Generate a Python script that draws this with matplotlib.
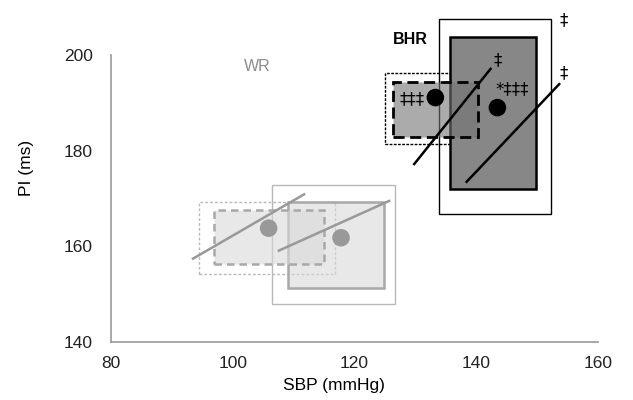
import matplotlib.pyplot as plt
from matplotlib.patches import Rectangle

plt.rcParams['font.family'] = ['Liberation Sans', 'DejaVu Sans']

# boxes: (x0, x1, y0, y1) in SBP / PI units
wr_dotted = (94.5, 116.8, 154.2, 169.2)
wr_dashed = (97.0, 115.0, 156.3, 167.7)
wr_outer = (106.4, 126.7, 147.9, 172.9)
wr_solid = (109.1, 124.8, 151.3, 169.3)
bhr_dotted = (125.1, 141.4, 181.3, 196.2)
bhr_dashed = (126.4, 140.3, 182.9, 194.4)
bhr_outer = (133.9, 152.3, 166.7, 207.6)
bhr_solid = (135.7, 149.8, 172.0, 203.7)

# group means
mean_sbp = [105.9, 117.8, 133.3, 143.5]
mean_pi = [163.8, 161.8, 191.1, 189.0]

# regression lines (x0, x1), (y0, y1)
line_x = [(93.3, 111.9), (107.4, 125.9), (129.7, 142.5), (138.3, 153.8)]
line_y = [(157.3, 171.0), (159.0, 169.6), (177.0, 197.3), (173.3, 194.1)]

fig = plt.figure(figsize=(6.33, 4), dpi=100)
ax = fig.add_axes([0.1754, 0.145, 0.769, 0.7175])


def box(b, ec, fc, ls, lw, z=2):
    x0, x1, y0, y1 = b
    r = Rectangle((x0, y0), x1 - x0, y1 - y0, facecolor=fc, edgecolor=ec,
                  linestyle=ls, linewidth=lw, zorder=z, clip_on=False)
    ax.add_patch(r)


# WR (grey)
box(wr_outer, '#b8b8b8', 'white', '-', 1.0, z=1)
box(wr_dotted, '#b8b8b8', 'none', (0, (2, 1.5)), 1.0, z=2)
box(wr_solid, '#a8a8a8', (0.85, 0.85, 0.85, 0.6), '-', 1.8, z=3)
box(wr_dashed, '#a8a8a8', (0.85, 0.85, 0.85, 0.6), (0, (3, 2)), 1.8, z=3)

# BHR (black)
box(bhr_outer, 'black', 'white', '-', 1.0, z=1)
box(bhr_dotted, 'black', 'none', (0, (2, 1)), 1.0, z=2)
box(bhr_solid, 'black', (0.53, 0.53, 0.53, 1.0), '-', 1.8, z=2)
box(bhr_dashed, 'black', (0.45, 0.45, 0.45, 0.6), (0, (4, 2)), 2.0, z=4)

colors = ['#999999', '#999999', 'black', 'black']
for i in range(4):
    ax.plot(line_x[i], line_y[i], color=colors[i], lw=1.8, zorder=5,
            clip_on=False, solid_capstyle='butt')
ax.scatter(mean_sbp, mean_pi, s=160, c=colors, zorder=6, clip_on=False,
           edgecolors='none')

dag = dict(fontsize=12, ha='center', va='center', family='DejaVu Sans', zorder=7)
ax.text(104.0, 197.5, 'WR', color='#8c8c8c', fontsize=11.5, ha='center', va='center')
ax.text(129.2, 203.3, 'BHR', color='black', fontsize=11.5, fontweight='bold',
        ha='center', va='center')
ax.text(154.4, 207.3, '‡', **dag)
ax.text(154.4, 196.2, '‡', **dag)
ax.text(143.6, 199.0, '‡', **dag)
ax.text(146.0, 192.9, '*‡‡‡', **dag)
ax.text(129.5, 190.8, '‡‡‡', **dag)

ax.set_xlim(80, 160)
ax.set_ylim(140, 200)
ax.set_xticks([80, 100, 120, 140, 160])
ax.set_yticks([140, 160, 180, 200])
ax.tick_params(length=0, labelsize=12.5, colors='#222222')
ax.tick_params(axis='x', pad=10)
ax.tick_params(axis='y', pad=13)
ax.set_xlabel('SBP (mmHg)', fontsize=12.5)
ax.set_ylabel('PI (ms)', fontsize=12.5)
ax.xaxis.set_label_coords(0.458, -0.125)
ax.yaxis.set_label_coords(-0.158, 0.608)
for s in ['top', 'right']:
    ax.spines[s].set_visible(False)
for s in ['left', 'bottom']:
    ax.spines[s].set_color('#999999')
    ax.spines[s].set_linewidth(1.2)

fig.savefig('out.png', dpi=100)
